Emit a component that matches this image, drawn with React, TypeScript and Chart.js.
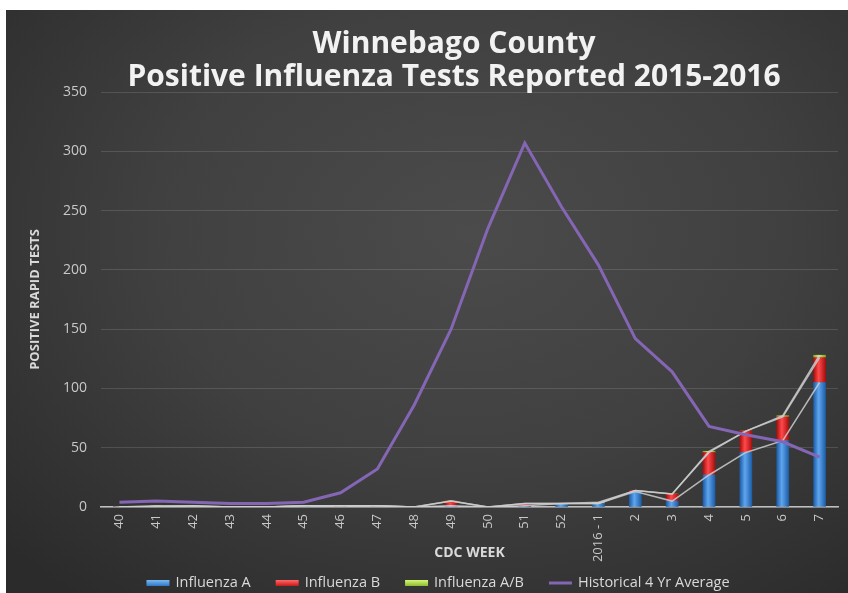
import React, { useEffect, useRef } from "react";
import { Chart, registerables } from "chart.js";

Chart.register(...registerables);

const TITLE_LINES = ["Winnebago County", "Positive Influenza Tests Reported 2015-2016"];
const X_TITLE = "CDC WEEK";
const Y_TITLE = "POSITIVE RAPID TESTS";

const WEEKS = ["40", "41", "42", "43", "44", "45", "46", "47", "48", "49", "50", "51", "52", "2016 - 1", "2", "3", "4", "5", "6", "7"];
const FLU_A = [0, 0, 0, 0, 0, 1, 1, 1, 0, 1, 0, 1, 3, 3, 13, 5, 27, 46, 56, 105];
const FLU_B = [0, 0, 1, 0, 0, 0, 0, 0, 0, 4, 0, 2, 0, 0, 1, 6, 19, 18, 20, 21];
const FLU_AB = [0, 1, 0, 0, 0, 0, 0, 0, 0, 0, 0, 0, 0, 1, 0, 0, 1, 0, 1, 2];
const HIST_AVG = [4, 5, 4, 3, 3, 4, 12, 32, 86, 150, 235, 307, 253, 204, 142, 114, 68, 61, 55, 42];

const Y_MIN = 0;
const Y_MAX = 350;
const Y_STEP = 50;

const SERIES_NAMES = ["Influenza A", "Influenza B", "Influenza A/B", "Historical 4 Yr Average"];

const FONT = '"Open Sans", "DejaVu Sans", sans-serif';

const cyl = (dark: string, light: string, legend: string) => (ctx: any) => {
  const xs = ctx.chart.scales && ctx.chart.scales.x;
  if (ctx.type !== "data" || !xs) return legend;
  const cx = xs.getPixelForValue(ctx.dataIndex);
  if (!Number.isFinite(cx)) return legend;
  const g = ctx.chart.ctx.createLinearGradient(cx - 6, 0, cx + 6, 0);
  g.addColorStop(0, dark);
  g.addColorStop(0.42, light);
  g.addColorStop(1, dark);
  return g;
};

const titlePlugin = {
  id: "twoLineTitle",
  afterDraw(chart: any) {
    const ctx = chart.ctx;
    ctx.save();
    ctx.font = `bold 30px ${FONT}`;
    ctx.fillStyle = "#f2f2f2";
    ctx.textAlign = "center";
    ctx.textBaseline = "middle";
    TITLE_LINES.forEach((t, i) => ctx.fillText(t, 448, 34 + i * 33));
    ctx.restore();
  },
};

// legend drawn from the datasets that carry a legendKind
const legendPlugin = {
  id: "bottomLegend",
  afterDraw(chart: any) {
    const ctx = chart.ctx;
    const items = chart.data.datasets.filter((d: any) => d.legendKind);
    ctx.save();
    ctx.font = `14.5px ${FONT}`;
    ctx.textBaseline = "middle";
    const boxW = 23;
    const boxGap = 6;
    const itemGap = 25;
    const widths = items.map((d: any) => boxW + boxGap + ctx.measureText(d.label).width);
    const total = widths.reduce((a: number, b: number) => a + b, 0) + itemGap * (items.length - 1);
    let x = 432 - total / 2;
    const y = 573;
    items.forEach((d: any, i: number) => {
      if (d.legendKind === "line") {
        ctx.fillStyle = d.legendColor;
        ctx.fillRect(x, y - 1.5, boxW, 3);
      } else {
        const g = ctx.createLinearGradient(0, y - 3, 0, y + 3);
        g.addColorStop(0, d.legendLight);
        g.addColorStop(1, d.legendColor);
        ctx.fillStyle = g;
        ctx.fillRect(x, y - 3, boxW, 6);
      }
      ctx.fillStyle = "#d9d9d9";
      ctx.fillText(d.label, x + boxW + boxGap, y);
      x += widths[i] + itemGap;
    });
    ctx.restore();
  },
};

export default function App() {
  const ref = useRef<HTMLCanvasElement>(null);

  useEffect(() => {
    const canvas = ref.current as HTMLCanvasElement;
    const cumAB = FLU_A.map((v, i) => v + FLU_B[i]);
    const cumAll = cumAB.map((v, i) => v + FLU_AB[i]);
    const seriesLine = (data: number[], stack: string) => ({
      type: "line" as const,
      label: "",
      data,
      stack,
      borderColor: "rgba(205,205,205,0.85)",
      backgroundColor: "rgba(205,205,205,0.85)",
      borderWidth: 1.5,
      pointRadius: 0,
      tension: 0,
      order: 1,
    });

    const chart = new Chart(canvas, {
      type: "bar",
      data: {
        labels: WEEKS,
        datasets: [
          {
            type: "bar",
            label: SERIES_NAMES[0],
            data: FLU_A,
            backgroundColor: cyl("#1d5ea8", "#5fa6ee", "#3d86d6"),
            barThickness: 12,
            order: 2,
            legendKind: "bar",
            legendColor: "#2f78c8",
            legendLight: "#7bb8f0",
          },
          {
            type: "bar",
            label: SERIES_NAMES[1],
            data: FLU_B,
            backgroundColor: cyl("#a80f0f", "#ff4a4a", "#e02525"),
            barThickness: 12,
            order: 2,
            legendKind: "bar",
            legendColor: "#c81818",
            legendLight: "#ff6a6a",
          },
          {
            type: "bar",
            label: SERIES_NAMES[2],
            data: FLU_AB,
            backgroundColor: cyl("#7aa82a", "#cdf06a", "#a6d444"),
            barThickness: 12,
            order: 2,
            legendKind: "bar",
            legendColor: "#8cbc30",
            legendLight: "#d8f57a",
          },
          {
            type: "line",
            label: SERIES_NAMES[3],
            data: HIST_AVG,
            stack: "hist",
            borderColor: "#8466b4",
            backgroundColor: "#8466b4",
            borderWidth: 3,
            pointRadius: 0,
            tension: 0,
            order: 0,
            legendKind: "line",
            legendColor: "#8466b4",
          },
          seriesLine(FLU_A, "s1"),
          seriesLine(cumAB, "s2"),
          seriesLine(cumAll, "s3"),
        ] as any,
      },
      plugins: [titlePlugin, legendPlugin],
      options: {
        responsive: false,
        devicePixelRatio: 1,
        animation: false,
        layout: { padding: { top: 82, left: 0, right: 10, bottom: 20 } },
        plugins: {
          title: { display: false },
          tooltip: { enabled: false },
          legend: { display: false },
        },
        scales: {
          x: {
            stacked: true,
            grid: { display: false, drawTicks: false },
            border: { display: true, color: "#bfbfbf", width: 1.5 },
            ticks: {
              color: "#c8c8c8",
              font: { family: FONT, size: 13 },
              minRotation: 90,
              maxRotation: 90,
              padding: 7,
              autoSkip: false,
            },
            title: {
              display: true,
              text: X_TITLE,
              color: "#d9d9d9",
              font: { family: FONT, size: 14, weight: "bold" },
              padding: { top: 0, bottom: 11.6 },
            },
            afterFit: (s: any) => {
              s.height = 66;
            },
          },
          y: {
            stacked: true,
            min: Y_MIN,
            max: Y_MAX,
            grid: { color: "rgba(255,255,255,0.13)", lineWidth: 1, drawTicks: false },
            border: { display: false },
            ticks: {
              stepSize: Y_STEP,
              color: "#c8c8c8",
              font: { family: FONT, size: 14 },
              padding: 14,
            },
            title: {
              display: true,
              text: Y_TITLE,
              color: "#d9d9d9",
              font: { family: FONT, size: 13, weight: "bold" },
              padding: { top: 21, bottom: 0 },
            },
            afterFit: (s: any) => {
              s.width = 95;
            },
          },
        },
      } as any,
    });
    return () => chart.destroy();
  }, []);

  return (
    <div
      style={{
        position: "absolute",
        left: 6,
        top: 10,
        width: 842,
        height: 583,
        background:
          "radial-gradient(ellipse 75% 80% at 55% 38%, #4b4b4b 0%, #404040 50%, #2b2b2b 100%)",
      }}
    >
      <canvas ref={ref} width={842} height={583} style={{ display: "block" }} />
    </div>
  );
}
